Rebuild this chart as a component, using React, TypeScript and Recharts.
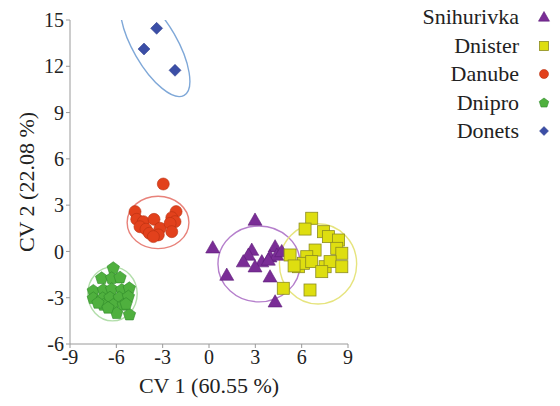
import React from 'react';
import { ScatterChart, Scatter, XAxis, YAxis, Label } from 'recharts';

// CV scores
const snihurivka = [
  { x: 2.98, y: 2.04 }, { x: 0.24, y: 0.24 }, { x: 2.77, y: 0.09 }, { x: 4.28, y: 0.31 },
  { x: 2.55, y: -0.23 }, { x: 2.22, y: -0.66 }, { x: 3.42, y: -0.66 }, { x: 3.95, y: -0.34 },
  { x: 4.39, y: -0.23 }, { x: 2.98, y: -0.99 }, { x: 3.84, y: -0.55 }, { x: 4.71, y: 0.0 },
  { x: 1.15, y: -1.53 }, { x: 3.95, y: -1.64 }, { x: 4.28, y: -3.26 },
];
const dnister = [
  { x: 6.65, y: 2.15 }, { x: 6.22, y: 1.45 }, { x: 7.41, y: 1.28 }, { x: 7.73, y: 0.96 },
  { x: 8.38, y: 0.74 }, { x: 8.27, y: 0.2 }, { x: 8.6, y: -0.12 }, { x: 6.87, y: 0.09 },
  { x: 5.25, y: -0.23 }, { x: 6.33, y: -0.34 }, { x: 5.79, y: -0.99 }, { x: 6.11, y: -0.77 },
  { x: 6.65, y: -0.66 }, { x: 7.52, y: -0.99 }, { x: 7.84, y: -0.66 }, { x: 7.3, y: -1.31 },
  { x: 8.6, y: -0.99 }, { x: 4.81, y: -2.39 }, { x: 6.54, y: -2.5 }, { x: 5.51, y: -0.94 },
];
const danube = [
  { x: -2.96, y: 4.37 }, { x: -4.79, y: 2.58 }, { x: -2.13, y: 2.58 }, { x: -4.68, y: 2.08 },
  { x: -4.25, y: 1.93 }, { x: -3.56, y: 2.08 }, { x: -2.41, y: 2.19 }, { x: -2.2, y: 1.93 },
  { x: -4.47, y: 1.6 }, { x: -4.08, y: 1.44 }, { x: -3.17, y: 1.5 }, { x: -2.52, y: 1.82 },
  { x: -3.86, y: 1.18 }, { x: -3.28, y: 1.07 }, { x: -2.41, y: 1.28 }, { x: -3.6, y: 0.96 },
];
const dnipro = [
  { x: -6.2, y: -1.09 }, { x: -6.95, y: -1.74 }, { x: -6.3, y: -1.74 }, { x: -5.76, y: -1.7 },
  { x: -7.49, y: -2.56 }, { x: -6.84, y: -2.5 }, { x: -6.3, y: -2.45 }, { x: -5.65, y: -2.5 },
  { x: -5.16, y: -2.39 }, { x: -7.49, y: -3.04 }, { x: -6.88, y: -3.04 }, { x: -6.41, y: -3.0 },
  { x: -5.81, y: -3.0 }, { x: -5.22, y: -2.93 }, { x: -6.84, y: -3.47 }, { x: -6.2, y: -3.47 },
  { x: -5.55, y: -3.47 }, { x: -5.98, y: -4.01 }, { x: -5.15, y: -4.1 }, { x: -7.19, y: -3.34 },
  { x: -6.54, y: -3.66 }, { x: -5.37, y: -3.41 },
];
const donets = [
  { x: -3.39, y: 14.46 }, { x: -4.21, y: 13.12 }, { x: -2.2, y: 11.74 },
];

// group ellipses: centre, semi-axes (CV units), rotation (deg, screen)
const ellipses = [
  { x: 3.24, y: -0.81, rx: 2.66, ry: 2.46, angle: 0, color: '#b57fcc' },
  { x: 7.06, y: -0.81, rx: 2.5, ry: 2.6, angle: 0, color: '#e6e47e' },
  { x: -3.3, y: 1.88, rx: 2.0, ry: 1.7, angle: 0, color: '#e8827a' },
  { x: -6.25, y: -2.75, rx: 1.6, ry: 1.75, angle: 0, color: '#b2deaa' },
  { x: -3.49, y: 13.38, rx: 3.76, ry: 1.43, angle: 60, color: '#7fa8d8' },
];

const xTicks = [-9, -6, -3, 0, 3, 6, 9];
const yTicks = [-6, -3, 0, 3, 6, 9, 12, 15];

const LEFT = 70;
const TOP = 20;
const PLOT_W = 278;
const PLOT_H = 324;
const PX_X = PLOT_W / 18;
const PX_Y = PLOT_H / 21;

const font = "'Times New Roman', 'Liberation Serif', Tinos, 'DejaVu Serif', serif";

const Triangle = ({ cx, cy, s = 7 }: any) => (
  <polygon points={`${cx},${cy - s} ${cx - s},${cy + s * 0.75} ${cx + s},${cy + s * 0.75}`} fill="#7a2d96" stroke="#5e1f78" strokeWidth={0.6} />
);
const Square = ({ cx, cy, s = 6 }: any) => (
  <rect x={cx - s} y={cy - s} width={s * 2} height={s * 2} fill="#dede10" stroke="#8c8c20" strokeWidth={0.8} />
);
const Circle = ({ cx, cy, s = 6 }: any) => (
  <circle cx={cx} cy={cy} r={s} fill="#e2411c" stroke="#b83010" strokeWidth={0.6} />
);
const Pentagon = ({ cx, cy, s = 6.5 }: any) => {
  const pts = [0, 1, 2, 3, 4]
    .map((i) => {
      const a = -Math.PI / 2 + (i * 2 * Math.PI) / 5;
      return `${cx + s * Math.cos(a)},${cy + s * Math.sin(a)}`;
    })
    .join(' ');
  return <polygon points={pts} fill="#4fb03e" stroke="#2f8a2a" strokeWidth={0.6} />;
};
const Diamond = ({ cx, cy, s = 6 }: any) => (
  <polygon points={`${cx},${cy - s} ${cx + s},${cy} ${cx},${cy + s} ${cx - s},${cy}`} fill="#3b4ea6" stroke="#2a3a88" strokeWidth={0.5} />
);

const EllipseShape = (props: any) => {
  const { cx, cy, payload } = props;
  if (cx == null || cy == null) return null;
  const id = 'clip-' + payload.color.slice(1);
  return (
    <g>
      <defs>
        <clipPath id={id}>
          <rect x={0} y={TOP} width={560} height={PLOT_H} />
        </clipPath>
      </defs>
      <g clipPath={`url(#${id})`}>
        <ellipse
          cx={cx}
          cy={cy}
          rx={payload.rx * PX_X}
          ry={payload.ry * PX_Y}
          transform={`rotate(${payload.angle} ${cx} ${cy})`}
          fill="none"
          stroke={payload.color}
          strokeWidth={1.4}
        />
      </g>
    </g>
  );
};

const legendItems = [
  { name: 'Snihurivka', Shape: Triangle, s: 5.5 },
  { name: 'Dnister', Shape: Square, s: 4.5 },
  { name: 'Danube', Shape: Circle, s: 4.5 },
  { name: 'Dnipro', Shape: Pentagon, s: 5 },
  { name: 'Donets', Shape: Diamond, s: 4.5 },
];

const tickStyle = { fontFamily: font, fontSize: 20, fill: '#222' };

export default function App() {
  return (
    <div style={{ position: 'absolute', left: 0, top: 0, width: 560, height: 406, background: '#fff' }}>
      <ScatterChart width={560} height={406} margin={{ top: TOP, right: 212, bottom: 0, left: 0 }}>
        <XAxis
          type="number"
          dataKey="x"
          domain={[-9, 9]}
          ticks={xTicks}
          height={62}
          tick={tickStyle}
          tickSize={4}
          axisLine={{ stroke: '#9a9a9a' }}
          tickLine={{ stroke: '#9a9a9a' }}
        >
          <Label value="CV 1 (60.55 %)" position="insideBottom" offset={13} style={{ fontFamily: font, fontSize: 22, fill: '#222' }} />
        </XAxis>
        <YAxis
          type="number"
          dataKey="y"
          domain={[-6, 15]}
          ticks={yTicks}
          width={LEFT}
          tick={tickStyle}
          tickSize={4}
          axisLine={{ stroke: '#9a9a9a' }}
          tickLine={{ stroke: '#9a9a9a' }}
        >
          <Label value="CV 2 (22.08 %)" angle={-90} position="insideLeft" offset={26} style={{ fontFamily: font, fontSize: 22, fill: '#222', textAnchor: 'middle' }} />
        </YAxis>
        <Scatter data={ellipses} shape={<EllipseShape />} isAnimationActive={false} />
        <Scatter name="Dnipro" data={dnipro} shape={<Pentagon />} isAnimationActive={false} />
        <Scatter name="Danube" data={danube} shape={<Circle />} isAnimationActive={false} />
        <Scatter name="Snihurivka" data={snihurivka} shape={<Triangle />} isAnimationActive={false} />
        <Scatter name="Dnister" data={dnister} shape={<Square />} isAnimationActive={false} />
        <Scatter name="Donets" data={donets} shape={<Diamond />} isAnimationActive={false} />
      </ScatterChart>
      <div style={{ position: 'absolute', top: 3, left: 380, width: 180, fontFamily: font, fontSize: 22, color: '#222' }}>
        {legendItems.map(({ name, Shape, s }) => (
          <div key={name} style={{ display: 'flex', alignItems: 'center', justifyContent: 'flex-end', height: 28.5 }}>
            <span style={{ marginRight: 18 }}>{name}</span>
            <svg width={14} height={14} style={{ marginRight: 9 }}>
              <Shape cx={7} cy={7} s={s} />
            </svg>
          </div>
        ))}
      </div>
    </div>
  );
}
